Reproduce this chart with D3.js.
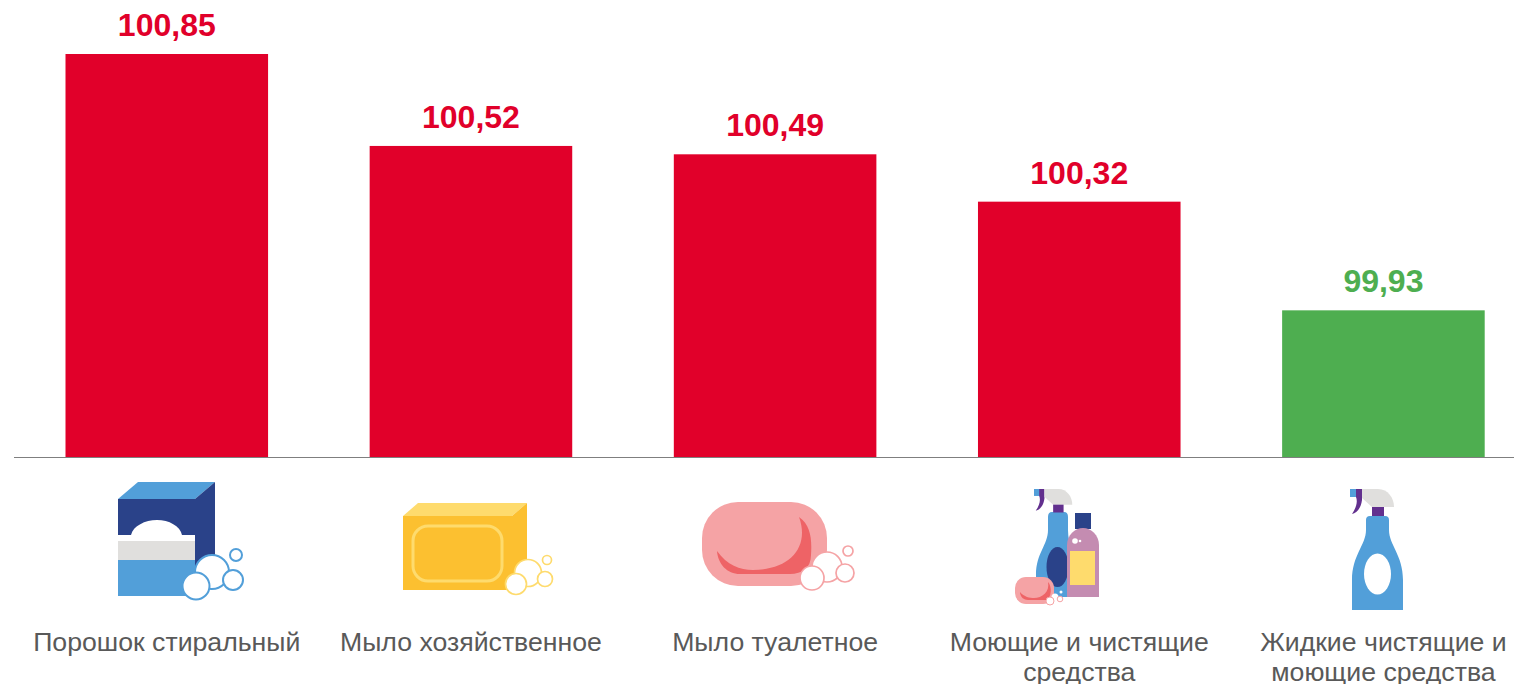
<!DOCTYPE html>
<html>
<head>
<meta charset="utf-8">
<script src="https://cdn.jsdelivr.net/npm/d3@7"></script>
<style>
	html, body { margin: 0; padding: 0; background: #fff; overflow: hidden; }
	svg { display: block; font-family: "Liberation Sans", Arial, sans-serif; }
</style>
</head>
<body>
<svg id="chart" width="1514" height="684"></svg>
<script>
// data
const categories = ['Порошок стиральный', 'Мыло хозяйственное', 'Мыло туалетное', 'Моющие и чистящие средства', 'Жидкие чистящие и моющие средства'];
const tickLabels = [['Порошок стиральный'], ['Мыло хозяйственное'], ['Мыло туалетное'], ['Моющие и чистящие', 'средства'], ['Жидкие чистящие и', 'моющие средства']];
const values = [100.85, 100.52, 100.49, 100.32, 99.93];
const valueLabels = ['100,85', '100,52', '100,49', '100,32', '99,93'];

const red = '#e1002a', green = '#4eae50';
const textGrey = '#595959';
const blue = '#529fd9', navy = '#2a4289', purple = '#62308e', lightGrey = '#e0dfdd';
const yellow = '#fcc030', paleYellow = '#fedb6d', pink = '#f5a3a5', darkPink = '#ee6366', mauve = '#c48cb1';

const svg = d3.select('#chart');

const x = d3.scaleBand().domain(categories).range([65.5, 1484.7]).paddingInner(0.334).paddingOuter(0);
const y = d3.scaleLinear().domain([99.4, 100.85]).range([458, 54]);
const colour = v => v < 100 ? green : red;

// bars
svg.append('g').selectAll('rect')
	.data(values)
	.join('rect')
	.attr('x', (d, i) => x(categories[i]))
	.attr('y', d => y(d))
	.attr('width', x.bandwidth())
	.attr('height', d => y(99.4) - y(d))
	.attr('fill', d => colour(d));

// value labels
svg.append('g').selectAll('text')
	.data(values)
	.join('text')
	.attr('x', (d, i) => x(categories[i]) + x.bandwidth() / 2)
	.attr('y', d => y(d) - 18)
	.attr('text-anchor', 'middle')
	.attr('font-size', 32)
	.attr('font-weight', 700)
	.attr('fill', d => colour(d))
	.text((d, i) => valueLabels[i]);

// baseline
svg.append('line')
	.attr('x1', 14).attr('x2', 1514)
	.attr('y1', 457.5).attr('y2', 457.5)
	.attr('stroke', '#7f7f7f').attr('stroke-width', 1);

// category labels, axis text gets split in lines by hand
const axis = svg.append('g')
	.attr('transform', 'translate(0,458)')
	.call(d3.axisBottom(x).tickSize(0));
axis.select('.domain').remove();
axis.selectAll('.tick text').each(function (d, i) {
	const t = d3.select(this).text(null)
		.attr('y', 193)
		.attr('dy', null)
		.attr('font-size', 26.67)
		.attr('font-family', '"Liberation Sans", Arial, sans-serif')
		.attr('fill', textGrey);
	tickLabels[i].forEach((line, k) => {
		t.append('tspan').attr('x', 0).attr('y', 193 + k * 30).text(line);
	});
});

// icons under the bars
const icons = svg.append('g');

function bubbles(list, stroke, w) {
	icons.append('g').selectAll('circle')
		.data(list)
		.join('circle')
		.attr('cx', d => d[0]).attr('cy', d => d[1]).attr('r', d => d[2])
		.attr('fill', '#fff').attr('stroke', stroke).attr('stroke-width', w);
}
function rect(g, x0, y0, w, h, fill, rx) {
	return g.append('rect').attr('x', x0).attr('y', y0).attr('width', w).attr('height', h).attr('fill', fill).attr('rx', rx || 0);
}
function path(g, d, fill) {
	return g.append('path').attr('d', d).attr('fill', fill);
}

// washing powder
path(icons, 'M118,499L138,482H215L195,499Z', blue);
path(icons, 'M195,499L215,482V575L195,592Z', navy);
rect(icons, 118, 499, 77, 97, navy);
path(icons, 'M131,535C133,526 145,520 157,520C169,520 180,526 182,535Z', '#fff');
rect(icons, 118, 535, 77, 6, '#fff');
rect(icons, 118, 541, 77, 19, lightGrey);
rect(icons, 118, 560, 77, 36, blue);
bubbles([[212, 572, 17], [196, 586, 13.5], [233, 580, 10], [236, 555, 6]], blue, 2);

// laundry soap
path(icons, 'M403,516L418,503H527L512,516Z', paleYellow);
path(icons, 'M512,516L527,503V575L512,590Z', yellow);
rect(icons, 403, 516, 109, 74, yellow);
rect(icons, 413, 526, 89, 55, 'none', 15).attr('stroke', paleYellow).attr('stroke-width', 3);
bubbles([[528, 573, 13.5], [516, 584, 10.5], [545, 579, 7.5], [547, 560, 4.5]], paleYellow, 1.7);

// toilet soap
rect(icons, 702, 502, 125, 84, pink, 36);
path(icons, 'M717,551C727,565 740,570 753,570C790,570 810,547 799,517C811,525 812,540 811,555C811,568 802,574 790,574H740C727,574 718,564 717,551Z', darkPink);
bubbles([[827, 567, 15], [812, 578, 12], [845, 573, 9], [848, 551, 5]], pink, 1.7);

// sprayer head, drawn for the big bottle and scaled down for the small one
function sprayer(g) {
	rect(g, 1350, 489, 7, 8, blue);
	path(g, 'M1356,489H1362V500C1361,508 1357,513 1352,514C1356,508 1358,502 1356,497Z', purple);
	path(g, 'M1362,489H1378C1388,489 1394,498 1394,507H1372L1362,498Z', lightGrey);
	rect(g, 1372, 507, 12, 9, purple);
}

// cleaning products
path(icons, 'M1052,512H1064Q1068,512 1068,517V530C1068,545 1075,555 1075,575V597H1036V575C1036,553 1048,545 1048,530V517Q1048,512 1052,512Z', blue);
icons.append('ellipse').attr('cx', 1057.5).attr('cy', 567).attr('rx', 11).attr('ry', 20).attr('fill', navy);
sprayer(icons.append('g').attr('transform', 'translate(1034,489) scale(0.87) translate(-1350,-489)'));
rect(icons, 1075, 513, 16, 16, navy);
path(icons, 'M1067,597V545C1067,535 1075,528 1083,528C1091,528 1099,535 1099,545V597Z', mauve);
rect(icons, 1070, 551, 25, 34, paleYellow);
bubbles([[1075, 541, 2.8], [1080, 541, 1.3]], '#fff', 0);
rect(icons, 1015, 577, 39, 27, pink, 11);
path(icons, 'M1020,592C1024,597 1030,598 1034,598C1042,598 1050,592 1048,582C1052,586 1052,598 1046,600H1028C1024,600 1020,597 1020,592Z', darkPink);
bubbles([[1055, 597, 3.5], [1061, 592, 1.5]], '#fff', 0);
bubbles([[1050, 601, 4], [1060, 599, 2.8]], pink, 1);

// liquid cleaner
path(icons, 'M1370,516H1385Q1389,516 1389,520V530C1389,545 1403,555 1403,580V610H1352V580C1352,555 1366,545 1366,530V520Q1366,516 1370,516Z', blue);
icons.append('ellipse').attr('cx', 1377.5).attr('cy', 574).attr('rx', 13.5).attr('ry', 20.5).attr('fill', '#fff');
sprayer(icons.append('g'));
</script>
</body>
</html>
